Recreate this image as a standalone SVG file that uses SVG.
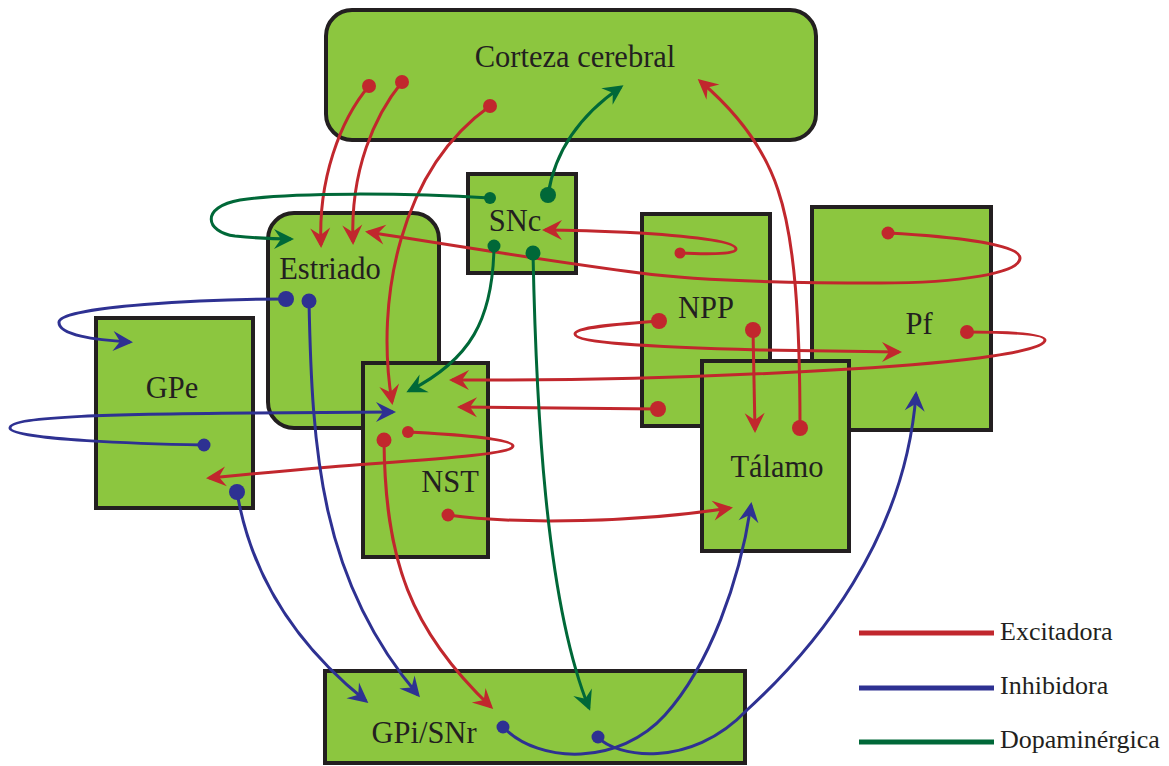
<svg xmlns="http://www.w3.org/2000/svg" width="1169" height="766" viewBox="0 0 1169 766">
<defs>
<style>
.box{fill:#8cc63f;stroke:#231f20;stroke-width:4}
.lbl{font-size:30.5px;fill:#231f20;text-anchor:middle}
.leg{font-size:26px;fill:#231f20}
.r{fill:none;stroke:#c1272d;stroke-width:3}
.b{fill:none;stroke:#2e3192;stroke-width:3}
.g{fill:none;stroke:#006838;stroke-width:3}
.ra{marker-end:url(#aR)}
.ba{marker-end:url(#aB)}
.ga{marker-end:url(#aG)}
.dr{fill:#c1272d}
.db{fill:#2e3192}
.dg{fill:#006838}
</style>
<marker id="aR" viewBox="-20 -11 24 22" refX="0" refY="0" markerWidth="24" markerHeight="22" markerUnits="userSpaceOnUse" orient="auto"><path d="M3,0 L-17,-10 L-10,0 L-17,10 Z" fill="#c1272d"/></marker>
<marker id="aB" viewBox="-20 -11 24 22" refX="0" refY="0" markerWidth="24" markerHeight="22" markerUnits="userSpaceOnUse" orient="auto"><path d="M3,0 L-17,-10 L-10,0 L-17,10 Z" fill="#2e3192"/></marker>
<marker id="aG" viewBox="-20 -11 24 22" refX="0" refY="0" markerWidth="24" markerHeight="22" markerUnits="userSpaceOnUse" orient="auto"><path d="M3,0 L-17,-10 L-10,0 L-17,10 Z" fill="#006838"/></marker>
</defs>
<rect width="1169" height="766" fill="#ffffff"/>

<g font-family="Liberation Serif, Times New Roman, DejaVu Serif, serif">
<g id="corteza"><rect class="box" x="326" y="10" width="490" height="130" rx="26"/><text class="lbl" x="575" y="67">Corteza cerebral</text></g>
<g id="estriado"><rect class="box" x="268" y="213" width="171" height="215" rx="26"/><text class="lbl" x="330" y="279">Estriado</text></g>
<g id="snc"><rect class="box" x="468" y="174" width="108" height="99"/><text class="lbl" x="515" y="231">SNc</text></g>
<g id="gpe"><rect class="box" x="96" y="318" width="157" height="190"/><text class="lbl" x="172" y="398">GPe</text></g>
<g id="nst"><rect class="box" x="363" y="363" width="125" height="194"/><text class="lbl" x="450" y="492">NST</text></g>
<g id="npp"><rect class="box" x="642" y="214" width="128" height="212"/><text class="lbl" x="706" y="318">NPP</text></g>
<g id="pf"><rect class="box" x="812" y="207" width="179" height="223"/><text class="lbl" x="919" y="334">Pf</text></g>
<g id="talamo"><rect class="box" x="702" y="361" width="147" height="190"/><text class="lbl" x="777" y="477">Tálamo</text></g>
<g id="gpi"><rect class="box" x="325" y="671" width="420" height="92"/><text class="lbl" x="424" y="743">GPi/SNr</text></g>
</g>

<g id="connectors">
<path class="r ra" d="M369,86 C340,120 318,180 321,245"/>
<path class="r ra" d="M402,82 C375,115 350,170 353,242"/>
<path class="r ra" d="M490,106 C400,170 375,300 392,402"/>
<path class="r ra" d="M680,253 C700,254 736,255 736,249 C736,242 700,237 640,233 C600,231 570,230 545,230"/>
<path class="r ra" d="M888,233 C960,237 1020,245 1020,258 C1020,273 960,283 880,283 C780,283 700,281 640,273 C560,263 450,245 368,232"/>
<path class="r ra" d="M659,321 C620,324 575,327 575,334 C575,343 650,347 760,350 C820,351 870,352 899,352"/>
<path class="r ra" d="M967,332 C1000,332 1045,333 1045,340 C1045,351 970,362 850,369 C750,375 600,381 452,380"/>
<path class="r ra" d="M658,409 L460,407"/>
<path class="r ra" d="M753,330 L755,430"/>
<path class="r ra" d="M800,428 C800,320 795,240 778,190 C765,150 740,115 700,81"/>
<path class="r ra" d="M408,432 C450,434 513,439 513,446 C513,455 420,460 330,467 C270,472 230,476 209,478"/>
<path class="r ra" d="M384,440 C385,560 410,630 491,707"/>
<path class="r ra" d="M448,515 C520,525 640,522 730,508"/>
<circle class="dr" cx="369" cy="86" r="7"/>
<circle class="dr" cx="402" cy="82" r="7"/>
<circle class="dr" cx="490" cy="106" r="7"/>
<circle class="dr" cx="680" cy="253" r="5.5"/>
<circle class="dr" cx="888" cy="233" r="6.5"/>
<circle class="dr" cx="659" cy="321" r="8"/>
<circle class="dr" cx="967" cy="332" r="7"/>
<circle class="dr" cx="658" cy="409" r="8"/>
<circle class="dr" cx="753" cy="330" r="8"/>
<circle class="dr" cx="800" cy="428" r="8"/>
<circle class="dr" cx="408" cy="432" r="6"/>
<circle class="dr" cx="384" cy="440" r="7.5"/>
<circle class="dr" cx="448" cy="515" r="6.5"/>
<path class="b ba" d="M286,299 C210,299 60,306 59,322 C58,335 95,340 130,342"/>
<path class="b ba" d="M309,301 C312,450 320,580 418,695"/>
<path class="b ba" d="M204,445 C150,444 10,440 10,428 C10,416 120,414 250,413 C330,412 370,412 393,412"/>
<path class="b ba" d="M237,492 C250,570 290,640 366,701"/>
<path class="b ba" d="M503,727 C540,765 620,765 665,715 C710,665 740,580 751,505"/>
<path class="b ba" d="M598,737 C615,757 690,770 747,710 C815,648 905,540 916,394"/>
<circle class="db" cx="286" cy="299" r="8"/>
<circle class="db" cx="309" cy="301" r="7.5"/>
<circle class="db" cx="204" cy="445" r="6.5"/>
<circle class="db" cx="237" cy="492" r="8"/>
<circle class="db" cx="503" cy="727" r="6.5"/>
<circle class="db" cx="598" cy="737" r="6.5"/>
<path class="g ga" d="M490,198 C410,193 290,192 240,200 C200,207 205,232 235,236 C255,238 275,239 291,239"/>
<path class="g ga" d="M548,195 C555,150 580,115 621,87"/>
<path class="g ga" d="M494,246 C493,320 470,360 409,391"/>
<path class="g ga" d="M533,253 C536,400 545,600 589,708"/>
<circle class="dg" cx="490" cy="198" r="6"/>
<circle class="dg" cx="548" cy="195" r="8"/>
<circle class="dg" cx="494" cy="246" r="6.5"/>
<circle class="dg" cx="533" cy="253" r="7.5"/>
</g>

<g id="legend" font-family="Liberation Serif, Times New Roman, DejaVu Serif, serif">
<line x1="859" y1="633" x2="994" y2="633" stroke="#c1272d" stroke-width="5"/>
<line x1="859" y1="688" x2="994" y2="688" stroke="#2e3192" stroke-width="5"/>
<line x1="859" y1="742" x2="994" y2="742" stroke="#006838" stroke-width="5"/>
<text class="leg" x="1000" y="640">Excitadora</text>
<text class="leg" x="1000" y="694">Inhibidora</text>
<text class="leg" x="1000" y="748">Dopaminérgica</text>
</g>
</svg>
